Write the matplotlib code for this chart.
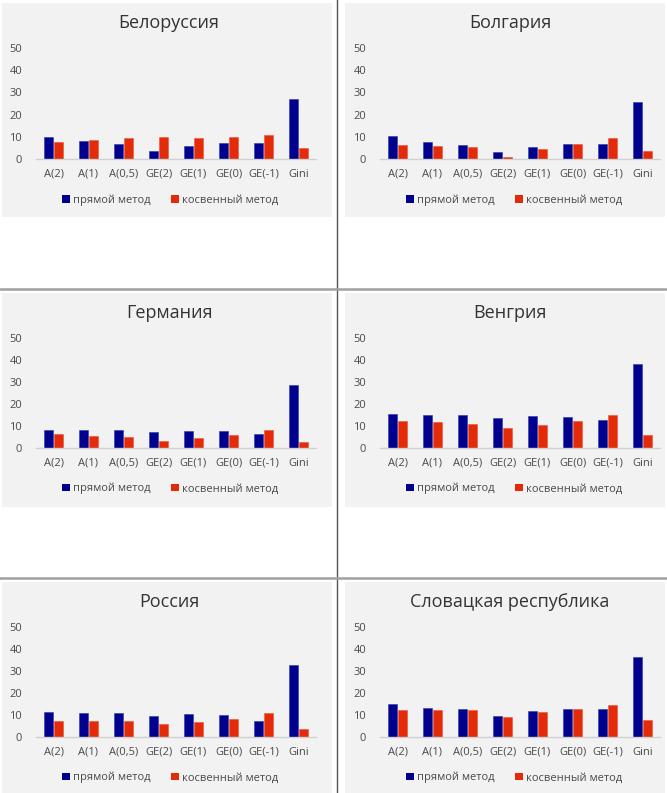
import matplotlib
matplotlib.use("Agg")
import matplotlib.pyplot as plt
from matplotlib.patches import Rectangle, Patch
from matplotlib.lines import Line2D
import numpy as np

plt.rcParams['font.family'] = ['Open Sans', 'DejaVu Sans']

# data
categories = ['A(2)', 'A(1)', 'A(0,5)', 'GE(2)', 'GE(1)', 'GE(0)', 'GE(-1)', 'Gini']
series_names = ['прямой метод', 'косвенный метод']
titles = ['Белоруссия', 'Болгария', 'Германия', 'Венгрия', 'Россия', 'Словацкая республика']

direct_by = [10.1, 7.9, 6.9, 3.7, 6.0, 7.2, 7.2, 27.0]
indirect_by = [7.5, 8.7, 9.3, 9.7, 9.4, 9.7, 10.6, 4.9]
direct_bg = [10.4, 7.6, 6.4, 3.1, 5.4, 6.7, 6.7, 25.8]
indirect_bg = [6.1, 6.0, 5.5, 0.7, 4.3, 6.7, 9.4, 3.6]
direct_de = [8.0, 8.0, 8.0, 7.1, 7.9, 7.6, 6.4, 28.8]
indirect_de = [6.4, 5.6, 5.2, 3.3, 4.5, 5.9, 8.0, 2.7]
direct_hu = [15.4, 14.9, 14.8, 13.6, 14.5, 14.2, 12.7, 38.0]
indirect_hu = [12.3, 11.7, 11.1, 8.9, 10.4, 12.3, 14.9, 5.9]
direct_ru = [11.5, 11.1, 10.8, 9.6, 10.6, 10.0, 7.5, 32.8]
indirect_ru = [7.3, 7.5, 7.3, 5.8, 6.7, 8.2, 11.1, 3.6]
direct_sk = [14.8, 13.3, 12.6, 9.7, 11.8, 12.9, 12.9, 36.2]
indirect_sk = [12.4, 12.4, 12.1, 9.1, 11.4, 12.9, 14.4, 7.6]

direct = [direct_by, direct_bg, direct_de, direct_hu, direct_ru, direct_sk]
indirect = [indirect_by, indirect_bg, indirect_de, indirect_hu, indirect_ru, indirect_sk]

W, H = 667, 793
fig = plt.figure(figsize=(W / 100, H / 100), dpi=100)

BLUE = '#00008E'
RED = '#E32B0A'
BG = '#F2F2F2'
TXT = '#4A4A4A'

# pixel layout of the table cells
gray_x = [(2, 332), (345, 665)]
gray_y = [(3, 217), (293, 507), (582, 793)]
axes_x = [(36, 316), (380, 660)]
axes_y = [(48, 159), (338, 448), (627, 737)]
title_x = [169, 510]


def fx(x):
    return x / W


def fy(y):
    return 1 - y / H


x = np.arange(len(categories))
for k in range(6):
    r, c = divmod(k, 2)
    gx0, gx1 = gray_x[c]
    gy0, gy1 = gray_y[r]
    fig.add_artist(Rectangle((fx(gx0), fy(gy1)), fx(gx1 - gx0), (gy1 - gy0) / H,
                             transform=fig.transFigure, facecolor=BG,
                             edgecolor='none', zorder=0))
    ax0, ax1 = axes_x[c]
    at, ab = axes_y[r]
    ax = fig.add_axes([fx(ax0), fy(ab), fx(ax1 - ax0), (ab - at) / H])
    ax.set_facecolor('none')
    ax.bar(x - 0.143, direct[k], 0.23, color=BLUE, edgecolor='#2A3AA8', linewidth=0.4)
    ax.bar(x + 0.143, indirect[k], 0.23, color=RED, edgecolor='#F05030', linewidth=0.4)
    ax.set_xlim(-0.5, len(categories) - 0.5)
    ax.set_ylim(0, 50)
    ax.set_yticks(range(0, 51, 10))
    ax.set_xticks(x)
    ax.set_xticklabels(categories)
    for s in ['top', 'right', 'left']:
        ax.spines[s].set_visible(False)
    ax.spines['bottom'].set_color('#D0D0D0')
    ax.spines['bottom'].set_linewidth(1)
    ax.tick_params(axis='y', length=0, pad=10, labelsize=8, labelcolor=TXT)
    ax.tick_params(axis='x', length=0, pad=7, labelsize=8, labelcolor=TXT)
    fig.text(fx(title_x[c]), fy(at - 25), titles[k], ha='center', va='center',
             fontsize=13, color='#333333')
    handles = [Patch(facecolor=BLUE), Patch(facecolor=RED)]
    ax.legend(handles, series_names, loc='center', bbox_to_anchor=(0.48, -0.37),
              ncol=2, frameon=False, fontsize=8, handlelength=0.7, handleheight=0.7,
              handletextpad=0.3, columnspacing=1.8, labelcolor=TXT)

# table borders
fig.add_artist(Line2D([fx(337), fx(337)], [0, 1], transform=fig.transFigure,
                      color='#555555', linewidth=1))
for yy in [289, 578]:
    fig.add_artist(Line2D([0, 1], [fy(yy), fy(yy)], transform=fig.transFigure,
                          color='#A0A0A0', linewidth=1.8))

fig.savefig('out.png', dpi=100)
